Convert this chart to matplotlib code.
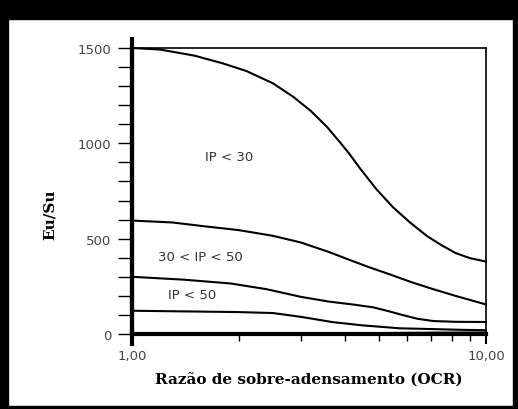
import matplotlib
matplotlib.use("Agg")
import matplotlib.pyplot as plt
from matplotlib.patches import Rectangle
from matplotlib.ticker import FixedLocator, NullFormatter

# curves: Eu/Su vs OCR
ocr_a = [1.0, 1.2, 1.5, 1.8, 2.1, 2.5, 2.85, 3.2, 3.56, 3.87, 4.1, 4.41, 4.9, 5.46, 6.1, 6.81, 7.5, 8.2, 9.0, 10.0]
eu_a = [1500, 1492, 1460, 1420, 1380, 1315, 1245, 1170, 1085, 1005, 948, 868, 760, 665, 585, 514, 465, 425, 398, 380]

ocr_b = [1.0, 1.3, 1.6, 2.0, 2.5, 3.0, 3.6, 4.1, 4.6, 5.4, 6.2, 7.1, 8.2, 10.0]
eu_b = [595, 585, 565, 545, 515, 480, 430, 390, 355, 310, 270, 235, 200, 155]

ocr_c = [1.0, 1.4, 1.9, 2.4, 3.0, 3.6, 4.2, 4.8, 5.3, 5.8, 6.4, 7.1, 8.2, 10.0]
eu_c = [300, 285, 265, 235, 195, 170, 155, 140, 120, 100, 80, 68, 64, 63]

ocr_d = [1.0, 1.5, 2.0, 2.5, 3.0, 3.7, 4.5, 5.7, 7.0, 8.5, 10.0]
eu_d = [122, 118, 115, 110, 90, 62, 45, 30, 26, 22, 20]

ocr_e = [1.0, 3.0, 5.0, 7.0, 10.0]
eu_e = [2, 3, 5, 7, 8]

labels = ["IP < 30", "30 < IP < 50", "IP < 50"]
label_pos = [(1.88, 933), (1.56, 409), (1.48, 205)]

y_major = [0, 500, 1000, 1500]
y_minor = list(range(100, 1500, 100))
x_minor = [2, 3, 4, 5, 6, 7, 8, 9]

fig = plt.figure(figsize=(5.18, 4.10), dpi=100)
fig.patch.set_facecolor("white")

# black frame of the scanned figure
fig.patches.append(Rectangle((0, 0.951), 1, 0.049, transform=fig.transFigure, color="black"))
fig.patches.append(Rectangle((0, 0), 0.016, 1, transform=fig.transFigure, color="black"))
fig.patches.append(Rectangle((0.99, 0), 0.01, 1, transform=fig.transFigure, color="black"))
fig.patches.append(Rectangle((0, 0.003), 1, 0.004, transform=fig.transFigure, color="black"))

ax = fig.add_axes([0.2548, 0.1829, 0.6834, 0.6976])
ax.set_xscale("log")
ax.set_xlim(1, 10)
ax.set_ylim(0, 1500)

for xs, ys in [(ocr_a, eu_a), (ocr_b, eu_b), (ocr_c, eu_c), (ocr_d, eu_d), (ocr_e, eu_e)]:
    ax.plot(xs, ys, color="black", lw=1.5, clip_on=False)

for txt, (x, y) in zip(labels, label_pos):
    ax.text(x, y, txt, ha="center", va="center", fontsize=9.5,
            family="DejaVu Sans", color="#333333")

for s in ["left", "bottom"]:
    ax.spines[s].set_linewidth(3)
for s in ["top", "right"]:
    ax.spines[s].set_linewidth(1.2)
ax.axvline(1, ymin=-0.035, ymax=1.03, color="black", lw=3, clip_on=False)

ax.yaxis.set_major_locator(FixedLocator(y_major))
ax.yaxis.set_minor_locator(FixedLocator(y_minor))
ax.set_yticklabels([str(v) for v in y_major], fontsize=9.5, family="DejaVu Sans", color="#444444")
ax.tick_params(axis="y", which="both", direction="out", length=10, width=1, pad=5)

ax.xaxis.set_major_locator(FixedLocator([1, 10]))
ax.xaxis.set_minor_locator(FixedLocator(x_minor))
ax.xaxis.set_minor_formatter(NullFormatter())
ax.set_xticklabels(["1,00", "10,00"], fontsize=9.5, family="DejaVu Sans", color="#444444")
ax.tick_params(axis="x", which="major", direction="out", length=7, width=1.5, pad=4)
ax.tick_params(axis="x", which="minor", direction="out", length=5, width=1)

ax.set_xlabel("Razão de sobre-adensamento (OCR)", fontsize=11, family="DejaVu Serif",
              fontweight="bold", labelpad=7)
ax.set_ylabel("Eu/Su", fontsize=11, family="DejaVu Serif", fontweight="bold")
ax.yaxis.set_label_coords(-0.212, 0.42)

fig.savefig("out.png", dpi=100)
